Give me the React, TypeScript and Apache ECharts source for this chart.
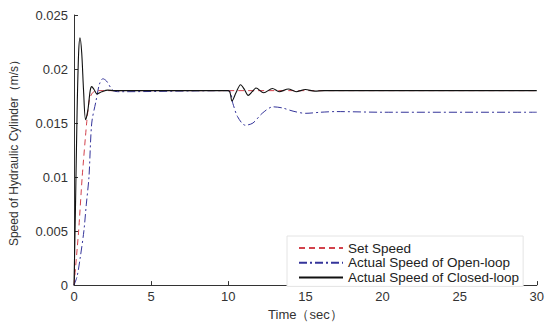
import React, { useEffect, useRef } from "react";
import * as echarts from "echarts";

const seriesNames = ["Set Speed", "Actual Speed of Open-loop", "Actual Speed of Closed-loop"];

const setTime = [0, 0.3, 0.53, 0.82, 1.0, 1.2, 1.5, 30];
const setSpeed = [0, 0.005, 0.01, 0.015, 0.0172, 0.0178, 0.018, 0.018];

const openTime = [0, 0.2, 0.4, 0.64, 0.8, 0.97, 1.15, 1.42, 1.65, 1.87, 2.1, 2.54, 3.0, 10, 10.3, 10.6, 11.1, 11.6, 12.2, 12.9, 13.5, 14.2, 15.0, 16.0, 17.0, 20, 30];
const openSpeed = [0, 0.0008, 0.0025, 0.005, 0.0075, 0.01, 0.015, 0.017, 0.0186, 0.0191, 0.0189, 0.018, 0.0179, 0.018, 0.0168, 0.0156, 0.0148, 0.015, 0.0159, 0.0165, 0.0164, 0.0161, 0.0159, 0.016, 0.01606, 0.016, 0.016];

const closedTime = [0, 0.09, 0.2, 0.3, 0.39, 0.5, 0.62, 0.75, 0.9, 1.05, 1.15, 1.3, 1.49, 1.8, 2.2, 2.6, 10, 10.24, 10.5, 10.8, 11.05, 11.29, 11.55, 11.8, 12.3, 12.87, 13.3, 13.9, 14.4, 15.0, 15.6, 16.2, 30];
const closedSpeed = [0, 0.0067, 0.016, 0.0215, 0.0229, 0.0215, 0.018, 0.0153, 0.0162, 0.018, 0.01837, 0.0181, 0.0177, 0.0179, 0.01805, 0.018, 0.018, 0.01705, 0.0178, 0.01855, 0.0181, 0.01756, 0.0179, 0.01824, 0.0178, 0.0182, 0.0179, 0.01815, 0.0179, 0.0181, 0.01795, 0.018, 0.018];

const xTicks = [0, 5, 10, 15, 20, 25, 30];
const yTicks = [0, 0.005, 0.01, 0.015, 0.02, 0.025];

const pair = (t: number[], v: number[]) => t.map((x, i) => [x, v[i]]);

const FONT = "Liberation Sans";

export default function App() {
  const ref = useRef<HTMLDivElement>(null);
  useEffect(() => {
    if (!ref.current) return;
    const chart = echarts.init(ref.current, undefined, { renderer: "svg" });
    const axisCommon = {
      axisLine: { show: true, lineStyle: { color: "#333", width: 1 } },
      axisTick: { show: true, inside: true, length: 4, lineStyle: { color: "#333" } },
      splitLine: { show: false },
      axisLabel: { color: "#333", fontSize: 13, fontFamily: FONT },
    };
    chart.setOption({
      animation: false,
      backgroundColor: "#fff",
      textStyle: { fontFamily: FONT },
      grid: { left: 72, right: 6, top: 15, bottom: 31, containLabel: false },
      xAxis: {
        type: "value",
        min: xTicks[0],
        max: xTicks[xTicks.length - 1],
        interval: xTicks[1] - xTicks[0],
        name: "Time（sec）",
        nameLocation: "middle",
        nameGap: 20,
        nameTextStyle: { color: "#333", fontSize: 13, fontFamily: FONT },
        ...axisCommon,
        axisLabel: { ...axisCommon.axisLabel, margin: 5 },
      },
      yAxis: {
        type: "value",
        min: yTicks[0],
        max: yTicks[yTicks.length - 1],
        interval: yTicks[1] - yTicks[0],
        name: "Speed of Hydraulic Cylinder（m/s）",
        nameLocation: "middle",
        nameGap: 54,
        nameTextStyle: { color: "#333", fontSize: 12, fontFamily: FONT },
        ...axisCommon,
        axisLabel: { ...axisCommon.axisLabel, margin: 6 },
      },
      legend: {
        orient: "vertical",
        left: 287,
        top: 236,
        padding: [5, 4, 2, 11],
        backgroundColor: "#fff",
        borderColor: "#e4e4e4",
        borderWidth: 1,
        itemWidth: 44,
        itemHeight: 12,
        itemGap: 0.7,
        itemStyle: { opacity: 0 },
        data: seriesNames,
        textStyle: { color: "#222", fontSize: 13.5, fontFamily: FONT },
      },
      series: [
        {
          name: seriesNames[0],
          type: "line",
          data: pair(setTime, setSpeed),
          showSymbol: false,
          symbol: "none",
          smooth: 0.2,
          z: 1,
          lineStyle: { color: "#d2424c", width: 1, type: [6, 4] },
          itemStyle: { color: "#d2424c" },
        },
        {
          name: seriesNames[1],
          type: "line",
          data: pair(openTime, openSpeed),
          showSymbol: false,
          symbol: "none",
          smooth: 0.3,
          z: 2,
          lineStyle: { color: "#34349a", width: 1, type: [8, 3, 2, 3] },
          itemStyle: { color: "#34349a" },
        },
        {
          name: seriesNames[2],
          type: "line",
          data: pair(closedTime, closedSpeed),
          showSymbol: false,
          symbol: "none",
          smooth: 0.3,
          z: 3,
          lineStyle: { color: "#111", width: 1.1 },
          itemStyle: { color: "#111" },
        },
      ],
    });
    return () => chart.dispose();
  }, []);
  return (
    <div
      ref={ref}
      style={{ position: "fixed", left: 0, top: 0, width: 547, height: 326, background: "#fff" }}
    />
  );
}
